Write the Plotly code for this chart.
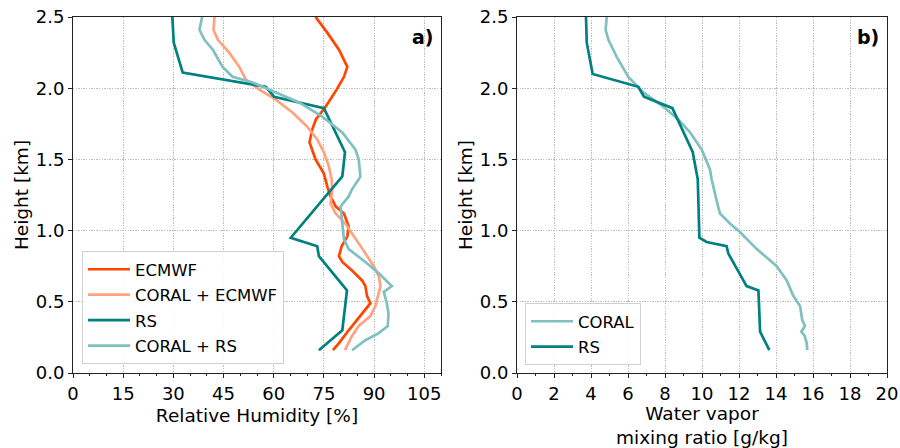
import plotly.graph_objects as go

# ---------------- data ----------------
ecmwf_h = [0.16, 0.21, 0.30, 0.42, 0.49, 0.54, 0.61, 0.65, 0.72, 0.78, 0.82, 0.89, 0.96, 1.03, 1.12,
           1.17, 1.24, 1.31, 1.36, 1.40, 1.50, 1.62, 1.71, 1.78, 1.87, 1.99, 2.08, 2.15, 2.27, 2.39, 2.50]
ecmwf_rh = [77.7, 79.5, 82.4, 86.4, 88.9, 87.9, 87.4, 86.4, 83.4, 80.5, 79.5, 80.3, 82.0, 82.4, 81.0,
            78.5, 77.0, 76.0, 75.5, 75.0, 72.5, 70.7, 71.5, 72.6, 75.5, 78.8, 81.0, 82.0, 79.5, 76.0, 72.5]

coral_ecmwf_h = [0.16, 0.21, 0.26, 0.33, 0.40, 0.47, 0.54, 0.61, 0.68, 0.75, 0.84, 0.91, 0.98, 1.05, 1.12,
                 1.19, 1.29, 1.36, 1.45, 1.55, 1.64, 1.73, 1.83, 1.92, 1.99, 2.06, 2.15, 2.25, 2.34, 2.41, 2.50]
coral_ecmwf_rh = [81.3, 82.4, 83.4, 85.4, 88.9, 90.4, 91.2, 91.9, 91.4, 89.9, 87.4, 85.4, 83.4, 81.4, 78.5,
                  77.0, 77.5, 77.3, 76.5, 75.0, 73.0, 70.0, 65.6, 60.6, 55.7, 51.7, 49.7, 46.7, 43.3, 42.0, 42.3]

rs_h = [0.16, 0.30, 0.58, 0.82, 0.89, 0.95, 1.38, 1.55, 1.86, 1.94, 2.01, 2.11, 2.32, 2.50]
rs_rh = [73.5, 80.5, 81.9, 73.5, 73.0, 65.1, 80.5, 81.3, 75.0, 60.1, 57.6, 32.8, 30.1, 29.7]

coral_rs_h = [0.16, 0.23, 0.28, 0.33, 0.42, 0.49, 0.57, 0.61, 0.70, 0.78, 0.87, 0.94, 1.05, 1.17, 1.24,
              1.29, 1.36, 1.38, 1.50, 1.57, 1.69, 1.80, 1.90, 1.98, 2.04, 2.08, 2.15, 2.27, 2.34, 2.41, 2.50]
coral_rs_rh = [83.4, 87.4, 91.4, 94.1, 94.3, 93.8, 92.9, 95.3, 91.4, 87.4, 82.4, 81.0, 80.5, 80.0, 82.4,
               83.4, 85.4, 85.9, 85.4, 84.4, 80.5, 74.5, 67.6, 59.6, 53.7, 47.7, 44.7, 41.8, 39.3, 37.8, 38.6]

coral_mr_h = [0.16, 0.21, 0.26, 0.29, 0.33, 0.37, 0.47, 0.54, 0.65, 0.75, 0.87, 0.99, 1.05, 1.12, 1.19,
              1.26, 1.31, 1.36, 1.43, 1.57, 1.69, 1.78, 1.87, 1.97, 2.08, 2.22, 2.34, 2.41, 2.50]
coral_mr = [15.69, 15.66, 15.55, 15.37, 15.57, 15.42, 15.30, 14.94, 14.58, 14.04, 12.96, 12.05, 11.51, 10.97, 10.83,
            10.70, 10.60, 10.52, 10.43, 9.98, 9.35, 8.72, 7.91, 6.83, 6.02, 5.39, 4.94, 4.79, 4.85]

rs_mr_h = [0.16, 0.29, 0.58, 0.61, 0.84, 0.89, 0.92, 0.95, 1.36, 1.40, 1.55, 1.86, 1.94, 2.01, 2.07, 2.10, 2.32, 2.50]
rs_mr = [13.64, 13.14, 13.05, 12.41, 11.42, 11.33, 10.25, 9.86, 9.77, 9.71, 9.50, 8.40, 6.86, 6.56, 4.85, 4.09, 3.77, 3.73]

rh_ticks = [0, 15, 30, 45, 60, 75, 90, 105]
mr_ticks = [0, 2, 4, 6, 8, 10, 12, 14, 16, 18, 20]
h_ticks = [0.0, 0.5, 1.0, 1.5, 2.0, 2.5]

# ---------------- styles ----------------
C_ECMWF = "#FF4500"
C_CORAL_ECMWF = "#FFA280"
C_RS = "#008080"
C_CORAL_RS = "#80C0C0"
FONT = "DejaVu Sans"
LW = 2.7

fig = go.Figure()

series_a = [
    (ecmwf_rh, ecmwf_h, "ECMWF", C_ECMWF),
    (coral_ecmwf_rh, coral_ecmwf_h, "CORAL + ECMWF", C_CORAL_ECMWF),
    (rs_rh, rs_h, "RS", C_RS),
    (coral_rs_rh, coral_rs_h, "CORAL + RS", C_CORAL_RS),
]
for i, (xv, yv, nm, col) in enumerate(series_a):
    fig.add_trace(go.Scatter(x=xv, y=yv, mode="lines", name=nm, legendgroup=f"a{i}",
                             line=dict(color=col, width=LW), xaxis="x", yaxis="y", legend="legend"))

series_b = [
    (coral_mr, coral_mr_h, "CORAL", C_CORAL_RS),
    (rs_mr, rs_mr_h, "RS", C_RS),
]
for i, (xv, yv, nm, col) in enumerate(series_b):
    fig.add_trace(go.Scatter(x=xv, y=yv, mode="lines", name=nm, legendgroup=f"b{i}",
                             line=dict(color=col, width=LW), xaxis="x2", yaxis="y2", legend="legend2"))

axis_common = dict(
    showline=True, mirror=True, linecolor="#222222", linewidth=1,
    ticks="outside", ticklen=4, tickcolor="#222222",
    showgrid=True, gridcolor="#bdbdbd", griddash="1.3px,1.3px", gridwidth=0.9,
    zeroline=False, tickfont=dict(family=FONT, size=18, color="black"),
    automargin=False,
)

Y0, Y1 = 1 - 373 / 448, 1 - 17 / 448

legend_common = dict(
    xanchor="left", yanchor="bottom",
    font=dict(family=FONT, size=16.5, color="black"),
    bgcolor="rgba(255,255,255,0.85)", bordercolor="#d0d0d0", borderwidth=1,
    itemwidth=42, tracegroupgap=1,
)

fig.update_layout(
    width=900, height=448,
    margin=dict(l=0, r=0, t=0, b=0),
    paper_bgcolor="white", plot_bgcolor="white",
    font=dict(family=FONT, color="black"),
    xaxis=dict(axis_common, domain=[73 / 900, 441 / 900], range=[0, 110], tickvals=rh_ticks,
               minor=dict(dtick=5, ticks="outside", ticklen=2, tickcolor="#222222", showgrid=False),
               title=dict(text="Relative Humidity [%]", font=dict(size=18.5), standoff=6),
               anchor="y"),
    yaxis=dict(axis_common, domain=[Y0, Y1], range=[0, 2.5], tickvals=h_ticks, tickformat=".1f",
               title=dict(text="Height [km]", font=dict(size=18.5), standoff=2), anchor="x"),
    xaxis2=dict(axis_common, domain=[517 / 900, 887 / 900], range=[0, 20], tickvals=mr_ticks,
                minor=dict(dtick=1, ticks="outside", ticklen=2, tickcolor="#222222", showgrid=False),
                title=dict(text="Water vapor<br>mixing ratio [g/kg]", font=dict(size=18.5), standoff=1),
                anchor="y2"),
    yaxis2=dict(axis_common, domain=[Y0, Y1], range=[0, 2.5], tickvals=h_ticks, tickformat=".1f",
                title=dict(text="Height [km]", font=dict(size=18.5), standoff=2), anchor="x2"),
    legend=dict(legend_common, x=82 / 900, y=1 - 364 / 448),
    legend2=dict(legend_common, x=525 / 900, y=1 - 365 / 448),
    annotations=[
        dict(text="<b>a)</b>", x=436 / 900, y=1 - 37 / 448, xref="paper", yref="paper",
             xanchor="right", yanchor="middle", showarrow=False, font=dict(family=FONT, size=19)),
        dict(text="<b>b)</b>", x=881 / 900, y=1 - 37 / 448, xref="paper", yref="paper",
             xanchor="right", yanchor="middle", showarrow=False, font=dict(family=FONT, size=19)),
    ],
)

fig.write_html("out.html")
